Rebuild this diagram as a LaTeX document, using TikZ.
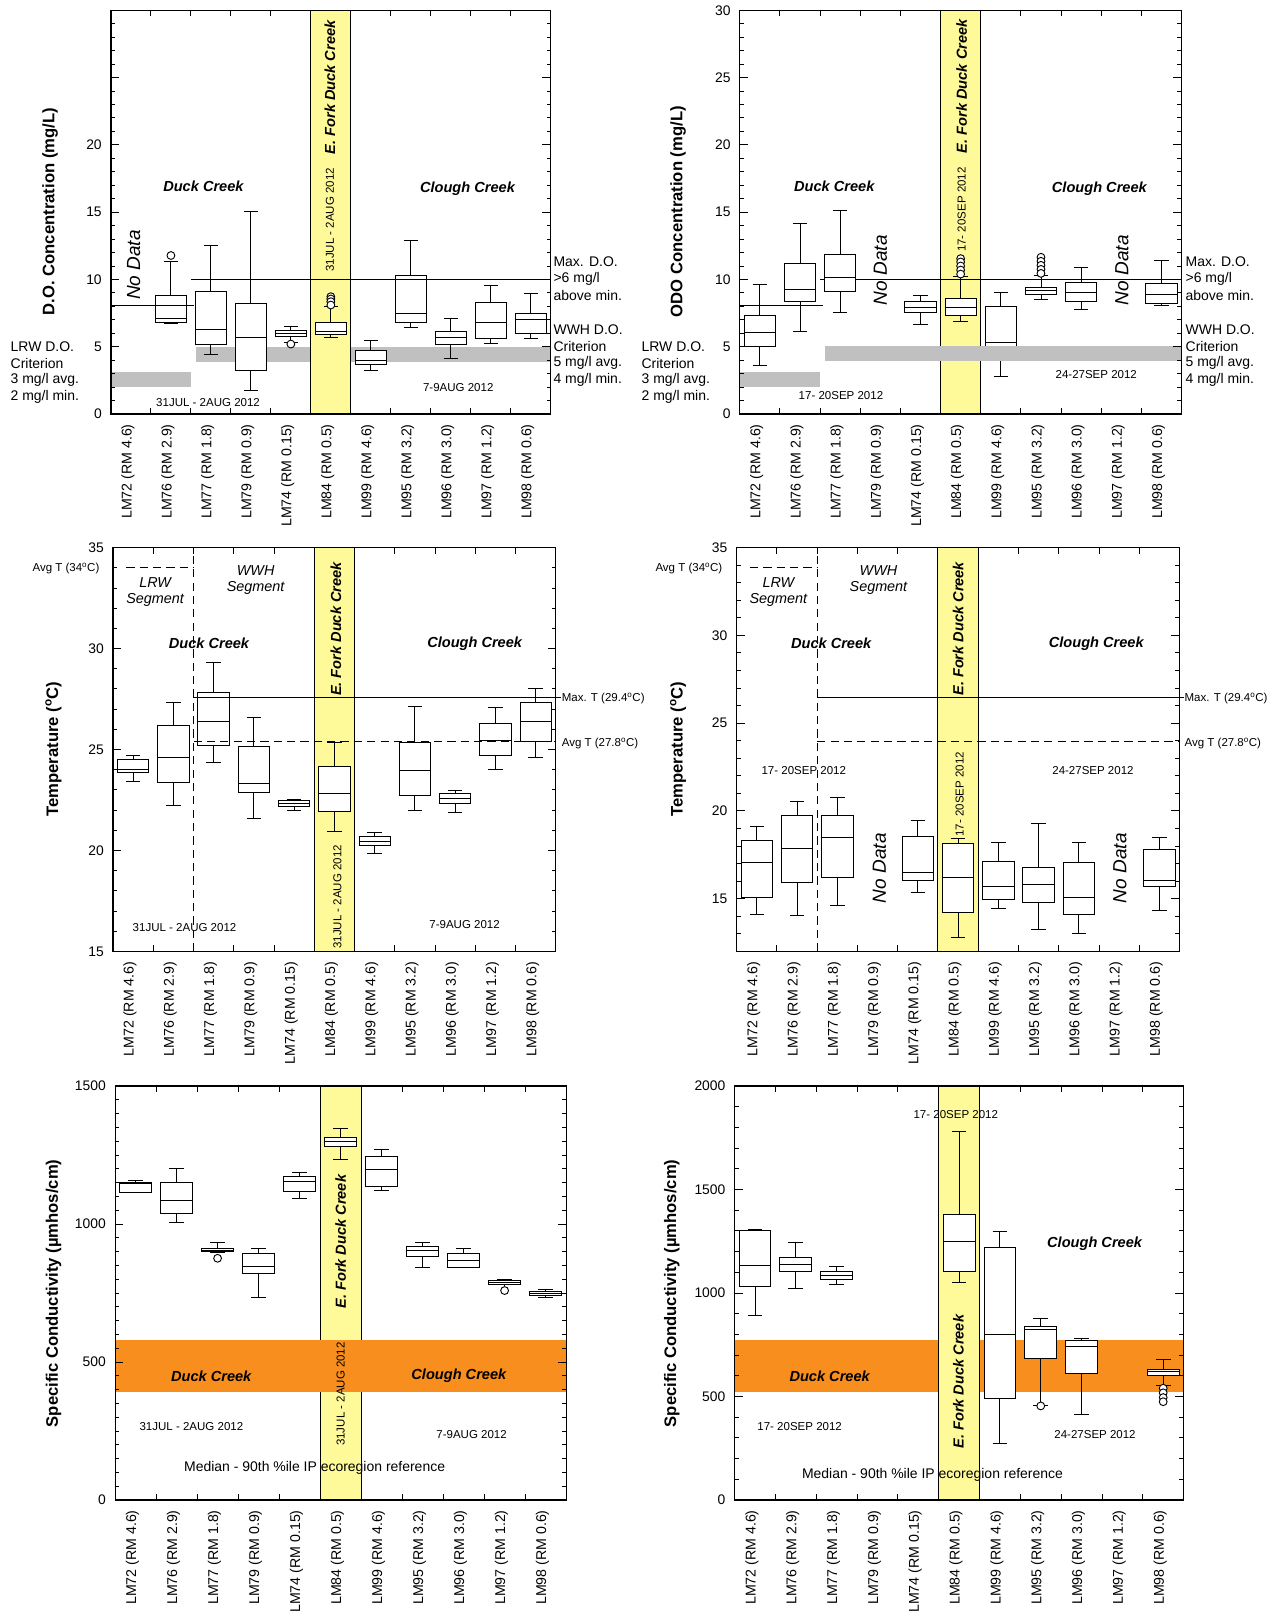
\documentclass[tikz,border=0pt]{standalone}
\usepackage{fontspec}
\setmainfont{Liberation Sans}
\definecolor{ylw}{RGB}{255,250,153}
\definecolor{gryb}{RGB}{192,192,192}
\definecolor{orng}{RGB}{248,142,30}
\newcommand\bxp[6]{%
  \draw (#1,#2) -- (#1,#3) (#1,#5) -- (#1,#6);
  \draw (#1-0.18,#2) -- (#1+0.18,#2) (#1-0.18,#6) -- (#1+0.18,#6);
  \draw[fill=white] (#1-0.39,#3) rectangle (#1+0.39,#5);
  \draw (#1-0.39,#4) -- (#1+0.39,#4);}
\newcommand\outl[2]{\draw[fill=white] (#1,#2) circle[radius=3.8pt];}
\newcommand\zbar[2]{\draw[line width=2.2pt] (#1-0.39,#2) -- (#1+0.39,#2);}
\newcommand\xlabs[1]{%
  \foreach \t [count=\i from 0] in {LM72 (RM 4.6),LM76 (RM 2.9),LM77 (RM 1.8),LM79 (RM 0.9),LM74 (RM 0.15),LM84 (RM 0.5),LM99 (RM 4.6),LM95 (RM 3.2),LM96 (RM 3.0),LM97 (RM 1.2),LM98 (RM 0.6)}
    \node[xlab] at ([xshift=-3pt,yshift=-10pt]\i+0.5,#1) {\t};}
\newcommand\xtk[2]{%
  \foreach \i in {1,...,10} {\draw (\i,#1) -- ++(0pt,6pt); \draw (\i,#2) -- ++(0pt,-6pt);}}
\begin{document}
\begin{tikzpicture}[x=1pt,y=-1pt,line width=0.9pt,
  every node/.style={inner sep=0pt,outer sep=0pt},
  tick/.style={font=\fontsize{13.5}{15}\selectfont,anchor=east},
  lab/.style={font=\fontsize{13.6}{15}\selectfont,anchor=west},
  sm/.style={font=\fontsize{11.2}{13}\selectfont},
  creek/.style={font=\fontsize{14.2}{16}\selectfont\bfseries\itshape},
  nodata/.style={font=\fontsize{18.5}{20}\selectfont\itshape,rotate=90},
  ytitle/.style={font=\fontsize{16.2}{18}\selectfont\bfseries,rotate=90},
  seg/.style={font=\fontsize{14}{16}\selectfont\itshape},
  xlab/.style={font=\fontsize{13.8}{15}\selectfont,rotate=90,anchor=east},
  frm/.style={line width=1.1pt},
  dsh/.style={dash pattern=on 8pt off 5pt}]
\useasboundingbox[fill=white] (0,0) rectangle (1239,1568);

% ================= Panel 1 =================
\begin{scope}[shift={(108,403)},x=38.909pt,y=13.1pt]
  \fill[gryb] (0,2.04) rectangle (2,3.15);
  \fill[gryb] (2.12,3.9) rectangle (11,5.0);
  \fill[ylw] (5,0) rectangle (6,30);
  \draw (5,0) -- (5,30) (6,0) -- (6,30);
  \bxp{1.5}{6.7}{6.83}{7.08}{8.8}{11.35} \outl{1.5}{11.78}
  \bxp{2.5}{4.4}{5.19}{6.31}{9.09}{12.52}
  \bxp{3.5}{1.74}{3.27}{5.68}{8.23}{15.08}
  \bxp{4.5}{5.3}{5.75}{5.97}{6.18}{6.49} \outl{4.5}{5.2}
  \bxp{5.5}{5.68}{5.92}{6.1}{6.79}{8.0}
  \outl{5.5}{8.72} \outl{5.5}{8.55} \outl{5.5}{8.35} \outl{5.5}{8.1}
  \bxp{6.5}{3.22}{3.72}{3.97}{4.71}{5.5}
  \bxp{7.5}{6.46}{6.81}{7.45}{10.26}{12.89}
  \bxp{8.5}{4.15}{5.14}{5.69}{6.14}{7.13}
  \bxp{9.5}{5.22}{5.64}{6.81}{8.32}{9.57}
  \bxp{10.5}{5.61}{6.01}{7.0}{7.5}{8.97}
  \draw (0,8.1) -- (2.08,8.1);
  \draw (2,10) -- (11,10);
  \zbar{0.5}{0}
  \draw[frm] (0,0) rectangle (11,30);
  \foreach \v in {0,...,30} {\draw (0,\v) -- ++(4pt,0pt); \draw (11,\v) -- ++(-4pt,0pt);}
  \foreach \v in {0,5,...,30} {\draw (0,\v) -- ++(8pt,0pt); \draw (11,\v) -- ++(-8pt,0pt);}
  \xtk{0}{30}
  \foreach \v in {0,5,...,20} \node[tick] at ([xshift=-9pt]0,\v) {\v};
  \xlabs{0}
\end{scope}
\node[ytitle] at (48.7,206) {D.O. Concentration (mg/L)};
\node[creek] at (198,181) {Duck Creek};
\node[creek] at (455,184) {Clough Creek};
\node[creek,rotate=90] at (321,85) {E. Fork Duck Creek};
\node[sm,rotate=90] at (321,214) {31JUL - 2AUG 2012};
\node[nodata] at (130,258) {No Data};
\node[sm] at (202.5,392) {31JUL - 2AUG 2012};
\node[sm] at (446,377) {7-9AUG 2012};
\node[lab] at (10.4,337.4) {LRW D.O.};
\node[lab] at (10.4,353.6) {Criterion};
\node[lab] at (10.4,369.9) {3 mg/l avg.};
\node[lab] at (10.4,386.1) {2 mg/l min.};
\node[lab] at (538.8,254.7) {Max. D.O.};
\node[lab] at (538.8,271.9) {>6 mg/l};
\node[lab] at (538.8,287.5) {above min.};
\node[lab] at (538.8,320.5) {WWH D.O.};
\node[lab] at (538.8,336.8) {Criterion};
\node[lab] at (538.8,353.6) {5 mg/l avg.};
\node[lab] at (538.8,369.9) {4 mg/l min.};

% ================= Panel 2 =================
\begin{scope}[shift={(720,403)},x=39.09pt,y=13.1pt]
  \fill[ylw] (5,0) rectangle (6,30);
  \draw (5,0) -- (5,30) (6,0) -- (6,30);
  \draw (0,8.1) -- (2.08,8.1);
  \draw (2,10) -- (11,10);
  \bxp{0.5}{3.6}{5.01}{6.08}{7.3}{9.6}
  \bxp{1.5}{6.13}{8.39}{9.28}{11.17}{14.19}
  \bxp{2.5}{7.55}{9.13}{10.15}{11.86}{15.16}
  \bxp{4.5}{6.69}{7.53}{7.9}{8.37}{8.82}
  \bxp{5.5}{6.91}{7.31}{7.93}{8.57}{10.2}
  \outl{5.5}{11.55} \outl{5.5}{11.3} \outl{5.5}{11.0} \outl{5.5}{10.7} \outl{5.5}{10.4}
  \bxp{6.5}{2.78}{4.3}{5.33}{8.03}{9.02}
  \bxp{7.5}{8.54}{8.88}{9.16}{9.43}{10.27}
  \outl{7.5}{11.65} \outl{7.5}{11.35} \outl{7.5}{11.05} \outl{7.5}{10.75} \outl{7.5}{10.45}
  \bxp{8.5}{7.79}{8.34}{9.06}{9.78}{10.92}
  \bxp{10.5}{8.04}{8.24}{8.91}{9.68}{11.41}
  \fill[gryb] (0,2.04) rectangle (2,3.15);
  \fill[gryb] (2.12,3.97) rectangle (11,5.08);
  \zbar{3.5}{0} \zbar{9.5}{0}
  \draw[frm] (0,0) rectangle (11,30);
  \foreach \v in {0,...,30} {\draw (0,\v) -- ++(4pt,0pt); \draw (11,\v) -- ++(-4pt,0pt);}
  \foreach \v in {0,5,...,30} {\draw (0,\v) -- ++(8pt,0pt); \draw (11,\v) -- ++(-8pt,0pt);}
  \xtk{0}{30}
  \foreach \v in {0,5,...,30} \node[tick] at ([xshift=-9pt]0,\v) {\v};
  \xlabs{0}
\end{scope}
\node[ytitle] at (660,206) {ODO Concentration (mg/L)};
\node[creek] at (812,181) {Duck Creek};
\node[creek] at (1070,184) {Clough Creek};
\node[creek,rotate=90] at (936,84) {E. Fork Duck Creek};
\node[sm,rotate=90] at (936,204) {17- 20SEP 2012};
\node[nodata] at (857,263) {No Data};
\node[nodata] at (1092,263) {No Data};
\node[sm] at (818.5,385.4) {17- 20SEP 2012};
\node[sm] at (1067,365) {24-27SEP 2012};
\node[lab] at (624.5,337.4) {LRW D.O.};
\node[lab] at (624.5,353.6) {Criterion};
\node[lab] at (624.5,369.9) {3 mg/l avg.};
\node[lab] at (624.5,386.1) {2 mg/l min.};
\node[lab] at (1154,254.7) {Max. D.O.};
\node[lab] at (1154,271.9) {>6 mg/l};
\node[lab] at (1154,287.5) {above min.};
\node[lab] at (1154,320.5) {WWH D.O.};
\node[lab] at (1154,336.8) {Criterion};
\node[lab] at (1154,353.6) {5 mg/l avg.};
\node[lab] at (1154,369.9) {4 mg/l min.};

% ================= Panel 3 =================
\begin{scope}[shift={(110,1220.75)},x=39.18pt,y=19.65pt]
  \fill[ylw] (5,15) rectangle (6,35);
  \draw (5,15) -- (5,35) (6,15) -- (6,35);
  \bxp{0.5}{23.4}{23.88}{24.03}{24.49}{24.7}
  \bxp{1.5}{22.22}{23.39}{24.6}{26.2}{27.32}
  \bxp{2.5}{24.36}{25.21}{26.38}{27.82}{29.3}
  \bxp{3.5}{21.6}{22.87}{23.3}{25.15}{26.58}
  \bxp{4.5}{21.97}{22.18}{22.31}{22.46}{22.54}
  \bxp{5.5}{20.95}{21.92}{22.83}{24.16}{25.36}
  \bxp{6.5}{19.84}{20.24}{20.45}{20.67}{20.87}
  \bxp{7.5}{21.99}{22.74}{23.96}{25.35}{27.14}
  \bxp{8.5}{21.89}{22.35}{22.58}{22.84}{22.97}
  \bxp{9.5}{24.01}{24.7}{25.44}{26.3}{27.09}
  \bxp{10.5}{24.6}{25.38}{26.38}{27.32}{28.03}
  \draw[dsh] (0.33,34.03) -- (2,34.03);
  \draw[dsh] (2,15) -- (2,35);
  \draw (2,27.57) -- ([xshift=5pt]11,27.57);
  \draw[dsh] (2,25.38) -- (11,25.38);
  \draw[frm] (0,15) rectangle (11,35);
  \foreach \v in {15,...,35} {\draw (0,\v) -- ++(4pt,0pt); \draw (11,\v) -- ++(-4pt,0pt);}
  \foreach \v in {15,20,...,35} {\draw (0,\v) -- ++(8pt,0pt); \draw (11,\v) -- ++(-8pt,0pt);}
  \xtk{15}{35}
  \foreach \v in {15,20,...,35} \node[tick] at ([xshift=-9pt]0,\v) {\v};
  \xlabs{15}
\end{scope}
\node[ytitle] at (52.1,729) {Temperature (\textsuperscript{o}C)};
\node[sm,anchor=west] at (31.7,553) {Avg T (34\textsuperscript{o}C)};
\node[seg] at (151,567) {LRW};
\node[seg] at (151,584) {Segment};
\node[seg] at (248.8,555.4) {WWH};
\node[seg] at (248.8,572.6) {Segment};
\node[creek] at (203.4,626.2) {Duck Creek};
\node[creek] at (462,627) {Clough Creek};
\node[creek,rotate=90] at (327,612.3) {E. Fork Duck Creek};
\node[sm,rotate=90] at (328.5,872.8) {31JUL - 2AUG 2012};
\node[sm] at (179.6,903) {31JUL - 2AUG 2012};
\node[sm] at (452.2,900.3) {7-9AUG 2012};
\node[sm,anchor=west] at (546.8,680) {Max. T (29.4\textsuperscript{o}C)};
\node[sm,anchor=west] at (546.8,723.5) {Avg T (27.8\textsuperscript{o}C)};

% ================= Panel 4 =================
\begin{scope}[shift={(717,1131.04)},x=39.18pt,y=17.087pt]
  \fill[ylw] (5,12) rectangle (6,35);
  \draw (5,12) -- (5,35) (6,12) -- (6,35);
  \bxp{0.5}{14.11}{15.09}{17.05}{18.31}{19.11}
  \bxp{1.5}{14.02}{15.91}{17.84}{19.75}{20.55}
  \bxp{2.5}{14.62}{16.23}{18.47}{19.77}{20.78}
  \bxp{4.5}{15.34}{16.04}{16.48}{18.52}{19.47}
  \bxp{5.5}{12.78}{14.2}{16.19}{18.13}{18.41}
  \bxp{6.5}{14.43}{14.96}{15.72}{17.12}{18.22}
  \bxp{7.5}{13.26}{14.77}{15.8}{16.76}{19.28}
  \bxp{8.5}{13.03}{14.11}{15.06}{17.08}{18.18}
  \bxp{10.5}{14.34}{15.68}{16.04}{17.8}{18.5}
  \draw[dsh] (0.33,33.89) -- (2,33.89);
  \draw[dsh] (2,12) -- (2,35);
  \draw (2,26.46) -- ([xshift=4pt]11,26.46);
  \draw[dsh] (2,23.94) -- (11,23.94);
  \draw[frm] (0,12) rectangle (11,35);
  \foreach \v in {12,...,35} {\draw (0,\v) -- ++(4pt,0pt); \draw (11,\v) -- ++(-4pt,0pt);}
  \foreach \v in {15,20,...,35} {\draw (0,\v) -- ++(8pt,0pt); \draw (11,\v) -- ++(-8pt,0pt);}
  \xtk{12}{35}
  \foreach \v in {15,20,...,35} \node[tick] at ([xshift=-9pt]0,\v) {\v};
  \xlabs{12}
\end{scope}
\node[ytitle] at (660,729) {Temperature (\textsuperscript{o}C)};
\node[sm,anchor=west] at (638,553) {Avg T (34\textsuperscript{o}C)};
\node[seg] at (757.6,567) {LRW};
\node[seg] at (757.6,584) {Segment};
\node[seg] at (855,555.4) {WWH};
\node[seg] at (855,572.6) {Segment};
\node[creek] at (809,626) {Duck Creek};
\node[creek] at (1067,627) {Clough Creek};
\node[creek,rotate=90] at (932.6,612) {E. Fork Duck Creek};
\node[sm,rotate=90] at (934,773) {17- 20SEP 2012};
\node[sm] at (782.3,749.5) {17- 20SEP 2012};
\node[sm] at (1063.8,750) {24-27SEP 2012};
\node[nodata] at (856,845) {No Data};
\node[nodata] at (1090,845) {No Data};
\node[sm,anchor=west] at (1153,680) {Max. T (29.4\textsuperscript{o}C)};
\node[sm,anchor=west] at (1153,723.5) {Avg T (27.8\textsuperscript{o}C)};

% ================= Panel 5 =================
\begin{scope}[shift={(112,1460)},x=39.909pt,y=0.268667pt]
  \fill[ylw] (5,0) rectangle (6,1500);
  \draw (5,0) -- (5,1500) (6,0) -- (6,1500);
  \fill[orng] (0,392.3) rectangle (11,579.5);
  \bxp{0.5}{1113}{1115.7}{1147}{1150.6}{1159}
  \bxp{1.5}{1007.2}{1039.8}{1086.7}{1150.6}{1202.4}
  \bxp{2.5}{898}{898.8}{906}{912}{933.7} \outl{2.5}{875.9}
  \bxp{3.5}{732.5}{819.3}{845.8}{891.6}{912}
  \bxp{4.5}{1091.6}{1119.3}{1154.2}{1173.5}{1188}
  \bxp{5.5}{1234.9}{1279.5}{1298.8}{1313.3}{1345.8}
  \bxp{6.5}{1122.9}{1137.3}{1198.8}{1245.8}{1271}
  \bxp{7.5}{843.4}{881.9}{906}{920.5}{933.7}
  \bxp{8.5}{843.4}{843.4}{867.5}{891.6}{912}
  \bxp{9.5}{780}{780.7}{788}{795}{800} \outl{9.5}{759}
  \bxp{10.5}{732.5}{739.8}{747}{754.2}{763.9}
  \draw[frm] (0,0) rectangle (11,1500);
  \foreach \v in {0,50,...,1500} {\draw (0,\v) -- ++(4pt,0pt); \draw (11,\v) -- ++(-4pt,0pt);}
  \foreach \v in {0,500,...,1500} {\draw (0,\v) -- ++(8pt,0pt); \draw (11,\v) -- ++(-8pt,0pt);}
  \xtk{0}{1500}
  \foreach \v in {0,500,...,1500} \node[tick] at ([xshift=-9pt]0,\v) {\v};
  \xlabs{0}
\end{scope}
\node[ytitle] at (52.1,1258.8) {Specific Conductivity (µmhos/cm)};
\node[creek,rotate=90] at (331.5,1208.5) {E. Fork Duck Creek};
\node[sm,rotate=90] at (331.5,1356.8) {31JUL - 2AUG 2012};
\node[creek] at (205.6,1340) {Duck Creek};
\node[creek] at (446.6,1339.3) {Clough Creek};
\node[sm] at (186.3,1388) {31JUL - 2AUG 2012};
\node[sm] at (459,1396.7) {7-9AUG 2012};
\node[lab,anchor=center] at (306.2,1429) {Median - 90th \%ile IP ecoregion reference};

% ================= Panel 6 =================
\begin{scope}[shift={(715,1460)},x=39.727pt,y=0.2015pt]
  \fill[orng] (0,523) rectangle (11,772.7);
  \fill[ylw] (5,0) rectangle (6,2000);
  \draw (5,0) -- (5,2000) (6,0) -- (6,2000);
  \bxp{0.5}{893.9}{1032.8}{1132.9}{1302.4}{1305.7}
  \bxp{1.5}{1019.9}{1102.2}{1137.8}{1173.3}{1244.3}
  \bxp{2.5}{1040.9}{1063.5}{1084.5}{1103.8}{1129.7}
  \bxp{5.5}{1050.6}{1102.2}{1249.2}{1381.6}{1780.4}
  \bxp{6.5}{272.3}{490.2}{801.9}{1220}{1299.2}
  \bxp{7.5}{454.6}{685.6}{826}{840.6}{877.7} \outl{7.5}{454.6}
  \bxp{8.5}{414.4}{612.9}{740.5}{772.8}{782.5}
  \bxp{10.5}{555}{600}{621}{632.3}{679.2}
  \outl{10.5}{540} \outl{10.5}{518} \outl{10.5}{495} \outl{10.5}{475}
  \zbar{3.5}{0} \zbar{4.5}{0} \zbar{9.5}{0}
  \draw[frm] (0,0) rectangle (11,2000);
  \foreach \v in {0,100,...,2000} {\draw (0,\v) -- ++(4pt,0pt); \draw (11,\v) -- ++(-4pt,0pt);}
  \foreach \v in {0,500,...,2000} {\draw (0,\v) -- ++(8pt,0pt); \draw (11,\v) -- ++(-8pt,0pt);}
  \xtk{0}{2000}
  \foreach \v in {0,500,...,2000} \node[tick] at ([xshift=-9pt]0,\v) {\v};
  \xlabs{0}
\end{scope}
\node[ytitle] at (654,1258.8) {Specific Conductivity (µmhos/cm)};
\node[sm] at (930.3,1084.3) {17- 20SEP 2012};
\node[creek] at (1065.4,1210.2) {Clough Creek};
\node[creek] at (807.5,1340) {Duck Creek};
\node[creek,rotate=90] at (932.8,1344.8) {E. Fork Duck Creek};
\node[sm] at (778.3,1388) {17- 20SEP 2012};
\node[sm] at (1065.8,1396.7) {24-27SEP 2012};
\node[lab,anchor=center] at (907.6,1435.7) {Median - 90th \%ile IP ecoregion reference};
\end{tikzpicture}
\end{document}
